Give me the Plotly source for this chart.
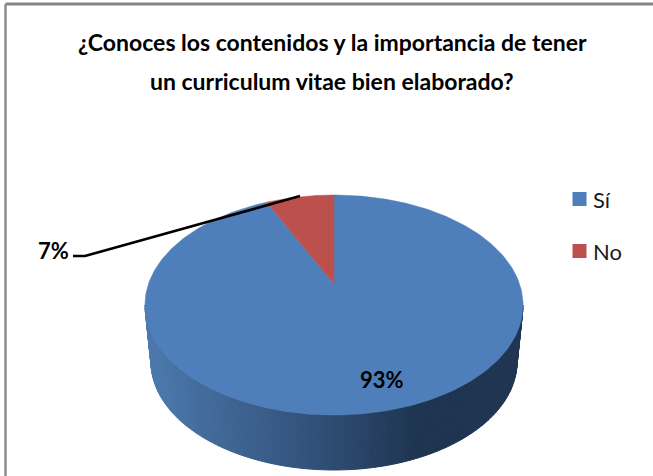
import numpy as np
import plotly.graph_objects as go

# Data
categories = ["Sí", "No"]
values = [93, 7]
colors = ["#4F7FBB", "#BC504D"]
title_lines = ["¿Conoces los contenidos y la importancia de tener",
               "un curriculum vitae bien elaborado?"]

# Geometry of the tilted pie (pixels on a 653x476 canvas)
W, H = 653, 476
cx, apex_y = 334, 284
b, k, c = 106.0, 0.191, 185.6
FONT = "Lato, Carlito, 'Open Sans', sans-serif"


def rim(t):
    """Perspective projection of the unit circle, t clockwise from the top."""
    u, v = np.sin(t), np.cos(t)
    d = 1 + k * v
    return cx + c * u / d, apex_y - b * v / d


def lerp_color(s):
    stops = [(0.0, (76, 122, 174)), (0.41, (52, 84, 126)), (0.73, (30, 52, 80)), (1.0, (31, 53, 82))]
    for (a, ca), (e, ce) in zip(stops, stops[1:]):
        if s <= e:
            f = (s - a) / (e - a)
            return "rgb(%d,%d,%d)" % tuple(round(p + (q - p) * f) for p, q in zip(ca, ce))
    return "rgb(31,53,82)"


fig = go.Figure()

# Side wall: gradient strips
n = 110
phi = np.linspace(np.pi, 0, n + 1)
for i in range(n):
    p = np.linspace(phi[i], phi[i + 1], 3)
    tx = 334 + 189 * np.cos(p)
    ty = 305 + 110 * np.sin(p)
    bx = 334 + 183 * np.cos(p)
    by = 362 + 108 * np.sin(p)
    xs = np.r_[tx, bx[::-1], tx[0]]
    ys = np.r_[ty, by[::-1], ty[0]]
    s = (np.cos((phi[i] + phi[i + 1]) / 2) + 1) / 2
    col = lerp_color(s)
    fig.add_trace(go.Scatter(x=xs, y=ys, mode="lines", fill="toself", fillcolor=col,
                             line=dict(color=col, width=1), hoverinfo="skip", showlegend=False))

# Top face: slices from the values, last slice ending at 12 o'clock
total = sum(values)
start = 0.0
for name, val, col in zip(categories, values, colors):
    a0, a1 = 2 * np.pi * start / total, 2 * np.pi * (start + val) / total
    t = np.linspace(a0, a1, max(8, int(val * 4)))
    rx, ry = rim(t)
    fig.add_trace(go.Scatter(x=np.r_[cx, rx, cx], y=np.r_[apex_y, ry, apex_y], mode="lines",
                             fill="toself", fillcolor=col, line=dict(color=col, width=0.5),
                             name=name, hoverinfo="name", showlegend=False))
    start += val

# Leader line for the small slice
fig.add_trace(go.Scatter(x=[73, 85, 300], y=[256, 256, 196], mode="lines",
                         line=dict(color="#000000", width=2.6), hoverinfo="skip", showlegend=False))

# Legend swatches
for name, col, ly in zip(categories, colors, [199, 251]):
    fig.add_trace(go.Scatter(x=[579.5], y=[ly], mode="markers",
                             marker=dict(symbol="square", size=14, color=col),
                             name=name, hoverinfo="name", showlegend=False))

ann = []
for line, y in zip(title_lines, [42, 81]):
    ann.append(dict(x=332, y=y, text=f"<b>{line}</b>", font=dict(size=23, color="#000000", family=FONT)))
ann.append(dict(x=382, y=379, text=f"<b>{values[0]}%</b>", font=dict(size=22, color="#000000", family=FONT)))
ann.append(dict(x=53, y=250, text=f"<b>{values[1]}%</b>", font=dict(size=22, color="#000000", family=FONT)))
for name, ly in zip(categories, [199, 251]):
    ann.append(dict(x=591, y=ly, text=name, xanchor="left", font=dict(size=22, color="#1a1a1a", family=FONT)))
for a in ann:
    a.update(xref="x", yref="y", showarrow=False)

fig.update_layout(
    width=W, height=H, margin=dict(l=0, r=0, t=0, b=0),
    paper_bgcolor="#FFFFFF", plot_bgcolor="#FFFFFF", showlegend=False,
    xaxis=dict(range=[0, W], visible=False, fixedrange=True),
    yaxis=dict(range=[H, 0], visible=False, fixedrange=True),
    annotations=ann,
    shapes=[
        dict(type="line", xref="x", yref="y", x0=5.5, x1=W, y0=4, y1=4, line=dict(color="#868686", width=3)),
        dict(type="line", xref="x", yref="y", x0=5.5, x1=5.5, y0=4, y1=H, line=dict(color="#8C8C8C", width=2.5)),
    ],
)
fig.write_html("out.html", config=dict(displayModeBar=False),
               post_script="document.body.style.margin='0';document.documentElement.style.overflow='hidden';")
